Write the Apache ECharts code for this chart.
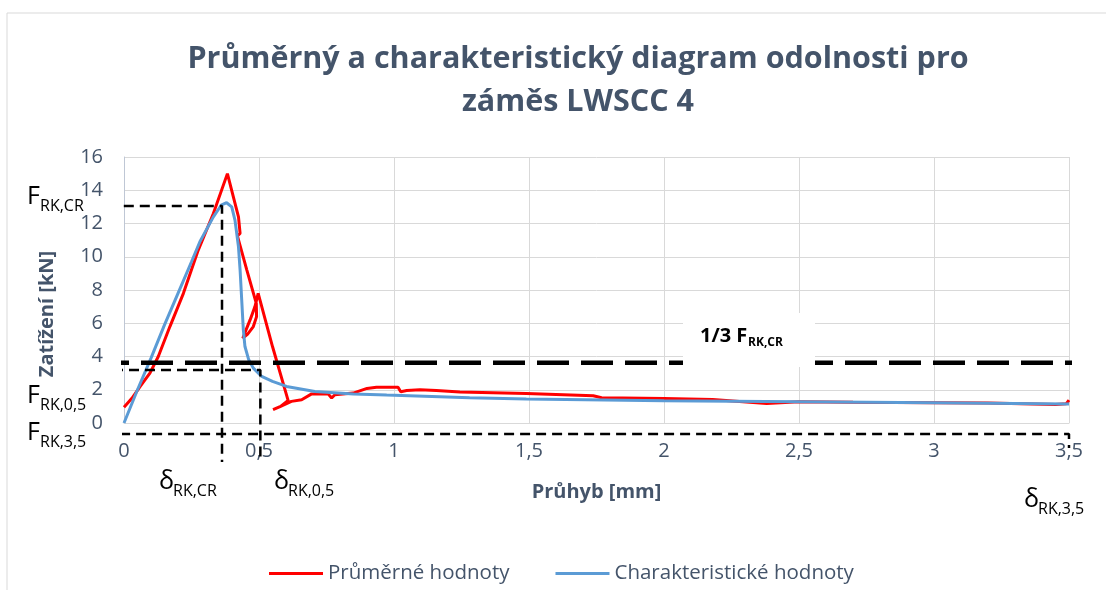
<!DOCTYPE html>
<html>
<head>
<meta charset="utf-8">
<script src="https://cdn.jsdelivr.net/npm/echarts@6/dist/echarts.min.js"></script>
<style>
  html, body { margin: 0; padding: 0; background: #fff; }
  #chart { width: 1106px; height: 590px; }
</style>
</head>
<body>
<div id="chart"></div>
<script>
// Průměrné hodnoty (průhyb mm, zatížení kN)
const redX = [0, 0.03, 0.06, 0.096, 0.127, 0.17, 0.22, 0.275, 0.331, 0.383, 0.405, 0.424, 0.43, 0.42,
  0.455, 0.49, 0.491, 0.479, 0.458, 0.44, 0.452, 0.467, 0.485, 0.497, 0.55, 0.608, 0.58, 0.552,
  0.58, 0.62, 0.658, 0.695, 0.756, 0.769, 0.781, 0.849, 0.9, 0.935, 1.015, 1.025, 1.047, 1.096,
  1.157, 1.244, 1.49, 1.738, 1.769, 2.0, 2.18, 2.38, 2.5, 2.7, 3.0, 3.2, 3.45, 3.49, 3.5];
const redY = [0.95, 1.5, 2.2, 3.0, 4.0, 5.8, 7.8, 10.4, 12.6, 15.0, 13.6, 12.4, 11.4, 11.25,
  9.2, 7.2, 6.4, 5.8, 5.35, 5.1, 5.6, 6.2, 7.0, 7.8, 4.6, 1.35, 1.0, 0.8,
  1.0, 1.3, 1.4, 1.75, 1.75, 1.5, 1.7, 1.8, 2.08, 2.15, 2.15, 1.88, 1.95, 2.0,
  1.95, 1.87, 1.78, 1.64, 1.52, 1.48, 1.42, 1.18, 1.28, 1.25, 1.22, 1.2, 1.12, 1.16, 1.38];

// Charakteristické hodnoty
const blueX = [0, 0.05, 0.1, 0.15, 0.2, 0.25, 0.281, 0.331, 0.36, 0.38, 0.399, 0.411, 0.424, 0.43,
  0.436, 0.442, 0.448, 0.462, 0.479, 0.51, 0.55, 0.602, 0.707, 0.85, 0.973, 1.28, 1.49, 2.0,
  2.5, 3.0, 3.5];
const blueY = [0, 2.0, 3.9, 5.9, 7.8, 9.7, 10.9, 12.4, 13.1, 13.25, 13.0, 12.2, 10.6, 9.2,
  7.4, 5.6, 4.6, 3.8, 3.3, 2.8, 2.5, 2.2, 1.9, 1.75, 1.68, 1.52, 1.44, 1.34,
  1.28, 1.22, 1.14];

// hodnoty pro vyznačení
const fRkCr = 13.05, dRkCr = 0.363;
const fRk05 = 3.19, dRk05 = 0.505;
const fRk35 = -0.66, dRk35 = 3.5;
const fThird = 3.62;

const xTicks = { min: 0, max: 3.5, interval: 0.5 };
const yTicks = { min: 0, max: 16, interval: 2 };

const slate = '#44546a';
const font = "'Open Sans', 'Noto Sans', sans-serif";

function zip(xs, ys) {
  return xs.map((x, i) => [x, ys[i]]);
}

// pomocná čára (čárkovaná)
function dashed(data, width, dash) {
  return {
    type: 'line',
    data: data,
    symbol: 'none',
    clip: false,
    silent: true,
    z: 5,
    lineStyle: { color: '#000', width: width, type: dash }
  };
}

// popisek s dolním indexem
function subLabel(x, y, main, sub, size, subSize, subDx, weight, dy) {
  return {
    type: 'group',
    z: 100,
    children: [
      { type: 'text', x: x, y: y, z: 100,
        style: { text: main, fontSize: size, fontFamily: font, fontWeight: weight || 'normal',
                 fill: '#000', verticalAlign: 'middle' } },
      { type: 'text', x: x + subDx, y: y + (dy || 9), z: 100,
        style: { text: sub, fontSize: subSize, fontFamily: font, fontWeight: weight || 'normal',
                 fill: '#000', verticalAlign: 'middle' } }
    ]
  };
}

const chart = echarts.init(document.getElementById('chart'));

const option = {
  animation: false,
  legend: {
    data: ['Průměrné hodnoty', 'Charakteristické hodnoty'],
    left: 269,
    top: 563,
    icon: 'rect',
    itemWidth: 54,
    itemHeight: 3,
    itemGap: 46,
    padding: 0,
    textStyle: { fontSize: 20.5, color: slate, fontFamily: font }
  },
  grid: { left: 124, right: 37, top: 157, bottom: 167 },
  xAxis: {
    type: 'value',
    min: xTicks.min,
    max: xTicks.max,
    interval: xTicks.interval,
    name: 'Průhyb [mm]',
    nameLocation: 'middle',
    nameGap: 59,
    nameTextStyle: { fontSize: 20, fontWeight: 'bold', color: slate, fontFamily: font },
    axisLine: { show: true, lineStyle: { color: '#d9d9d9', type: 'dotted', width: 1 } },
    axisTick: { show: false },
    axisLabel: {
      fontSize: 20, color: slate, fontFamily: font, margin: 18,
      formatter: v => String(v).replace('.', ',')
    },
    splitLine: { show: true, lineStyle: { color: '#d9d9d9', width: 1 } }
  },
  yAxis: {
    type: 'value',
    min: yTicks.min,
    max: yTicks.max,
    interval: yTicks.interval,
    axisLine: { show: true, lineStyle: { color: '#bfc7d5', width: 1 } },
    axisTick: { show: false },
    axisLabel: { fontSize: 20, color: slate, fontFamily: font, margin: 21 },
    splitLine: { show: true, lineStyle: { color: '#d9d9d9', width: 1 } }
  },
  series: [
    {
      name: 'Průměrné hodnoty',
      type: 'line',
      data: zip(redX, redY),
      symbol: 'none',
      lineStyle: { color: '#ff0000', width: 3 },
      itemStyle: { color: '#ff0000' }
    },
    {
      name: 'Charakteristické hodnoty',
      type: 'line',
      data: zip(blueX, blueY),
      symbol: 'none',
      lineStyle: { color: '#5b9bd5', width: 3 },
      itemStyle: { color: '#5b9bd5' }
    },
    dashed([[-0.06, fRkCr], [dRkCr, fRkCr], [dRkCr, -2.35]], 2.5, [10, 6]),
    dashed([[-0.1, fRk05], [dRk05, fRk05], [dRk05, -2.35]], 2.5, [10, 6]),
    dashed([[-0.133, fRk35], [dRk35, fRk35], [dRk35, -1.5]], 2.5, [10, 6]),
    dashed([[-0.1, fThird], [3.56, fThird]], 4.5, [32, 12])
  ],
  graphic: [
    { type: 'rect', z: -1, silent: true,
      shape: { x: 7, y: 13, width: 1200, height: 700 },
      style: { fill: 'none', stroke: '#d9d9d9', lineWidth: 1 } },
    {
      type: 'text', z: 100, x: 578, y: 38,
      style: {
        text: 'Průměrný a charakteristický diagram odolnosti pro\nzáměs LWSCC 4',
        fontSize: 30.5, fontWeight: 'bold', fill: slate, fontFamily: font,
        lineHeight: 43, align: 'center', verticalAlign: 'top'
      }
    },
    { type: 'rect', z: 99, silent: true,
      shape: { x: 683, y: 313, width: 132, height: 54 },
      style: { fill: '#fff' } },
    subLabel(700, 336, '1/3 F', 'RK,CR', 20, 12, 48, 'bold', 7),
    {
      type: 'text', z: 100, x: 47, y: 314, rotation: Math.PI / 2,
      style: { text: 'Zatížení [kN]', fontSize: 20, fontWeight: 'bold', fill: slate, fontFamily: font,
               align: 'center', verticalAlign: 'middle' }
    },
    subLabel(27, 197, 'F', 'RK,CR', 25, 16, 13),
    subLabel(27, 396, 'F', 'RK,0,5', 25, 16, 13),
    subLabel(27, 433, 'F', 'RK,3,5', 25, 16, 13),
    subLabel(159, 482, 'δ', 'RK,CR', 25, 16, 14),
    subLabel(274, 482, 'δ', 'RK,0,5', 25, 16, 14),
    subLabel(1024, 500, 'δ', 'RK,3,5', 25, 16, 14)
  ]
};

chart.setOption(option);
</script>
</body>
</html>
